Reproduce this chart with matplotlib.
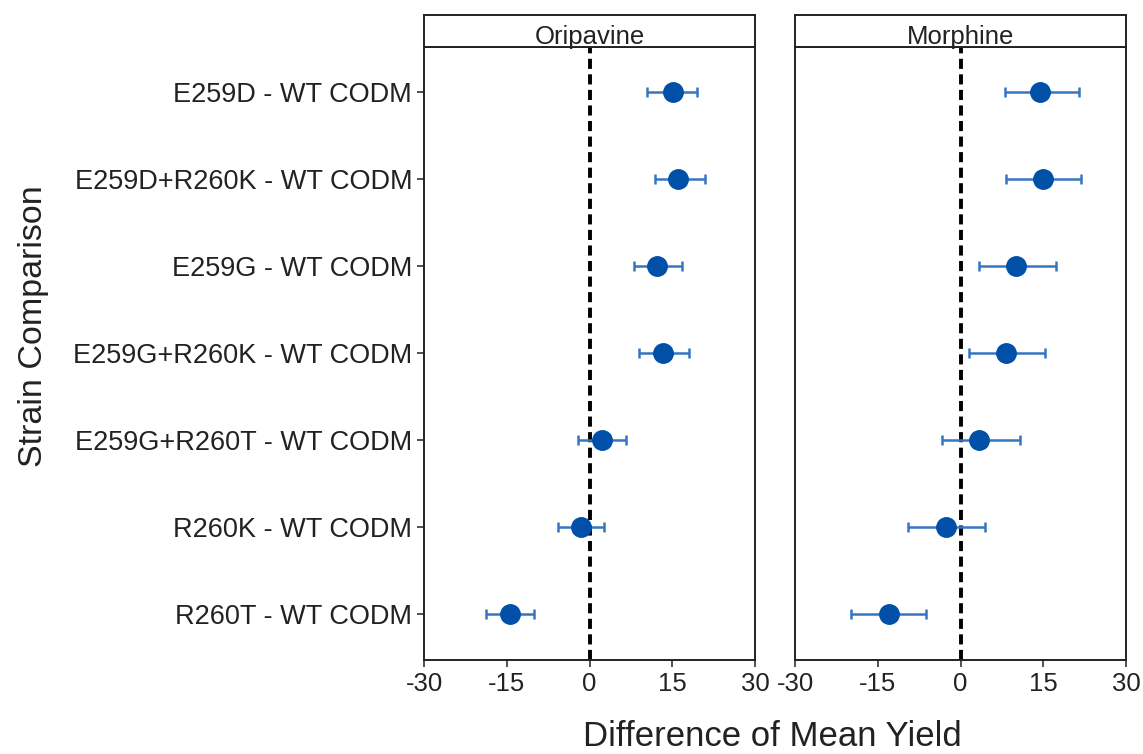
import numpy as np
import matplotlib.pyplot as plt

plt.rcParams['font.family'] = ['Liberation Sans', 'DejaVu Sans']

# data
comparisons = ['E259D - WT CODM', 'E259D+R260K - WT CODM', 'E259G - WT CODM',
               'E259G+R260K - WT CODM', 'E259G+R260T - WT CODM', 'R260K - WT CODM',
               'R260T - WT CODM']
panels = ['Oripavine', 'Morphine']

ori_diff = [15.1, 16.0, 12.2, 13.3, 2.2, -1.5, -14.4]
ori_low = [10.5, 11.8, 8.0, 8.9, -2.0, -5.8, -18.7]
ori_high = [19.5, 20.9, 16.7, 18.0, 6.7, 2.7, -10.0]

mor_diff = [14.5, 14.9, 10.1, 8.3, 3.4, -2.7, -13.0]
mor_low = [8.0, 8.2, 3.3, 1.5, -3.4, -9.6, -19.9]
mor_high = [21.4, 21.9, 17.4, 15.4, 10.7, 4.5, -6.2]

xticks = [-30, -15, 0, 15, 30]

fig = plt.figure(figsize=(11.43, 7.54), dpi=100)

W, H = 1143, 754
def box(x0, x1, y0, y1):
    return [x0 / W, 1 - y1 / H, (x1 - x0) / W, (y1 - y0) / H]

axes = [fig.add_axes(box(424, 755, 47, 660)), fig.add_axes(box(795, 1126, 47, 660))]
strips = [fig.add_axes(box(424, 755, 15, 47)), fig.add_axes(box(795, 1126, 15, 47))]

data = [(ori_diff, ori_low, ori_high), (mor_diff, mor_low, mor_high)]
ypos = np.arange(len(comparisons))

for i, ax in enumerate(axes):
    d, lo, hi = data[i]
    d = np.array(d)
    err = [d - np.array(lo), np.array(hi) - d]
    ax.axvline(0, color='black', linestyle=(0, (2.6, 1.4)), linewidth=2.8, zorder=1)
    ax.errorbar(d, ypos, xerr=err, fmt='none', ecolor='#3575C2', elinewidth=1.8,
                capsize=3.5, capthick=1.8, zorder=2)
    ax.plot(d, ypos, 'o', color='#0050A8', markersize=14, zorder=3)
    ax.set_xlim(-30, 30)
    ax.set_ylim(6.53, -0.52)
    ax.set_xticks(xticks)
    ax.set_xticklabels([str(t) for t in xticks], fontsize=18.5, color='#222222')
    ax.tick_params(axis='both', direction='out', length=5, width=1.2, color='#333333')
    for s in ax.spines.values():
        s.set_linewidth(1.4)
        s.set_color('#222222')
    if i == 0:
        ax.set_yticks(ypos)
        ax.set_yticklabels(comparisons, fontsize=19.5, color='#222222')
    else:
        ax.set_yticks([])

for i, sx in enumerate(strips):
    sx.set_xticks([])
    sx.set_yticks([])
    for s in sx.spines.values():
        s.set_linewidth(1.4)
        s.set_color('#222222')
    sx.text(0.5, 0.1, panels[i], ha='center', va='baseline', fontsize=18.5,
            color='#222222', transform=sx.transAxes)

fig.text(34 / W, 1 - 326 / H, 'Strain Comparison', rotation=90, ha='center',
         va='center', fontsize=24.5, color='#222222')
fig.text(772 / W, 1 - 736 / H, 'Difference of Mean Yield', ha='center',
         va='center', fontsize=25, color='#222222')

fig.savefig('out.png', dpi=100)
